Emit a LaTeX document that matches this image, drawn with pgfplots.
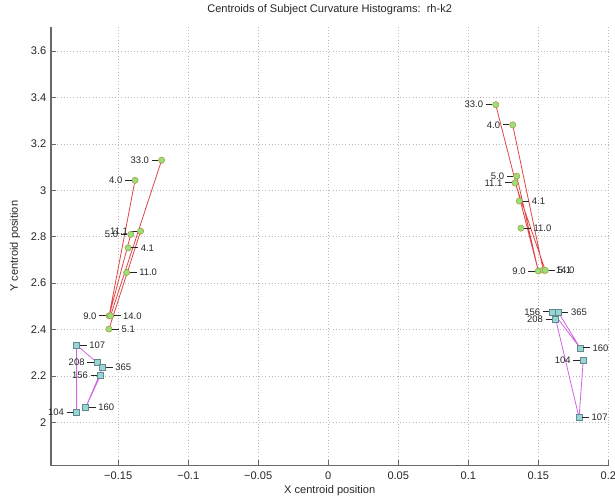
\documentclass[border=0pt]{standalone}
\usepackage{fontspec}
\setmainfont{Liberation Sans}
\usepackage{pgfplots}
\pgfplotsset{compat=1.18}
\definecolor{gridc}{RGB}{185,185,185}
\definecolor{mkgreen}{RGB}{150,225,120}
\definecolor{mkgedge}{RGB}{175,150,70}
\definecolor{mkcyan}{RGB}{150,215,210}
\definecolor{mkcedge}{RGB}{100,135,145}
\definecolor{redl}{RGB}{225,70,70}
\definecolor{pinkl}{RGB}{210,100,225}
\definecolor{axc}{RGB}{105,105,105}
\pgfplotsset{
  lablL/.style={point meta=explicit symbolic,
    nodes near coords={\pgfplotspointmeta\hspace{2pt}\rule[0.6ex]{5pt}{0.5pt}},
    nodes near coords style={anchor=east, inner sep=0pt, xshift=-2.3pt, font=\fontsize{7.1}{8}\selectfont, text=black!85}},
  lablR/.style={point meta=explicit symbolic,
    nodes near coords={\rule[0.6ex]{5pt}{0.5pt}\hspace{2pt}\pgfplotspointmeta},
    nodes near coords style={anchor=west, inner sep=0pt, xshift=2.3pt, font=\fontsize{7.1}{8}\selectfont, text=black!85}},
  gmark/.style={only marks, mark=*, mark size=2.35pt, mark options={fill=mkgreen, draw=mkgedge, line width=0.4pt}},
  cmark/.style={only marks, mark=square*, mark size=2.25pt, mark options={fill=mkcyan, draw=mkcedge, line width=0.4pt}},
}
\begin{document}
\begin{tikzpicture}
\begin{axis}[
  at={(0,0)}, anchor=south west, scale only axis,
  width=418pt, height=329.25pt,
  xmin=-0.198, xmax=0.2, ymin=1.813, ymax=3.705,
  axis x line*=bottom, axis y line*=left,
  axis line style={axc, line width=0.8pt},
  tick align=inside, major tick length=4pt,
  tick style={axc, line width=0.6pt},
  xtick={-0.15,-0.1,-0.05,0,0.05,0.1,0.15,0.2},
  xticklabels={−0.15,−0.1,−0.05,0,0.05,0.1,0.15,0.2},
  ytick={2,2.2,2.4,2.6,2.8,3,3.2,3.4,3.6},
  yticklabels={2,2.2,2.4,2.6,2.8,3,3.2,3.4,3.6},
  grid=major, major grid style={gridc, dotted, line width=0.6pt},
  ticklabel style={font=\fontsize{8.3}{9}\selectfont, text=black!85},
  xticklabel style={yshift=-1pt},
  xlabel={X centroid position}, ylabel={Y centroid position},
  x label style={at={(axis description cs:0.5,-0.057)}, anchor=center, font=\fontsize{8.3}{9}\selectfont, text=black!85},
  y label style={at={(axis description cs:-0.0646,0.5)}, anchor=center, font=\fontsize{8.3}{9}\selectfont, text=black!85},
  title={Centroids of Subject Curvature Histograms:\ \ rh-k2},
  every axis title shift=0pt,
  title style={at={(axis description cs:0.5,1.038)}, anchor=center, font=\fontsize{8.3}{9}\selectfont, text=black!85},
  clip=false,
  unbounded coords=jump,
]
% red connecting lines (left cluster)
\addplot[redl, line width=0.6pt] coordinates {
  (-0.119,3.130) (-0.1555,2.459) (nan,nan)
  (-0.138,3.043) (-0.1565,2.459) (nan,nan)
  (-0.134,2.824) (-0.1566,2.402) (nan,nan)
  (-0.141,2.810) (-0.1565,2.459)
};
% red connecting lines (right cluster)
\addplot[redl, line width=0.6pt] coordinates {
  (0.1196,3.369) (0.150,2.652) (nan,nan)
  (0.1317,3.282) (0.1535,2.656) (nan,nan)
  (0.1334,3.032) (0.155,2.655) (nan,nan)
  (0.1346,3.061) (0.150,2.652)
};
% magenta connecting lines (left)
\addplot[pinkl, line width=0.6pt] coordinates {
  (-0.1797,2.043) (-0.1797,2.333) (-0.165,2.257) (nan,nan)
  (-0.1626,2.204) (-0.1733,2.063) (nan,nan)
  (-0.1611,2.237) (-0.1733,2.063)
};
% magenta connecting lines (right)
\addplot[pinkl, line width=0.6pt] coordinates {
  (0.1821,2.268) (0.1791,2.020) (0.1624,2.445) (nan,nan)
  (0.1603,2.476) (0.1798,2.321) (nan,nan)
  (0.1643,2.474) (0.1798,2.321)
};
% green markers, labels on the left
\addplot[gmark, lablL] coordinates {
  (-0.119,3.130) [33.0]
  (-0.138,3.043) [4.0]
  (-0.134,2.824) [11.1]
  (-0.141,2.810) [5.0]
  (-0.1565,2.459) [9.0]
  (0.1196,3.369) [33.0]
  (0.1317,3.282) [4.0]
  (0.1346,3.061) [5.0]
  (0.1334,3.032) [11.1]
  (0.150,2.652) [9.0]
};
% green markers, labels on the right
\addplot[gmark, lablR] coordinates {
  (-0.1429,2.752) [4.1]
  (-0.144,2.646) [11.0]
  (-0.1555,2.459) [14.0]
  (-0.1566,2.402) [5.1]
  (0.1364,2.954) [4.1]
  (0.1376,2.837) [11.0]
  (0.1535,2.656) [14.0]
  (0.155,2.655) [5.1]
};
% cyan squares, labels on the left
\addplot[cmark, lablL] coordinates {
  (-0.165,2.257) [208]
  (-0.1626,2.204) [156]
  (-0.1797,2.043) [104]
  (0.1603,2.476) [156]
  (0.1624,2.445) [208]
  (0.1821,2.268) [104]
};
% cyan squares, labels on the right
\addplot[cmark, lablR] coordinates {
  (-0.1797,2.333) [107]
  (-0.1611,2.237) [365]
  (-0.1733,2.063) [160]
  (0.1643,2.474) [365]
  (0.1798,2.321) [160]
  (0.1791,2.020) [107]
};
\end{axis}
\pgfresetboundingbox
\useasboundingbox (-38.25pt,-25.7pt) rectangle (423pt,349.3pt);
\end{tikzpicture}
\end{document}
